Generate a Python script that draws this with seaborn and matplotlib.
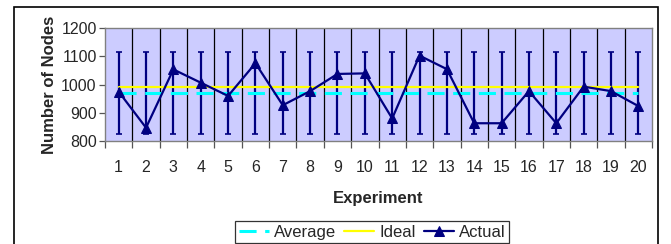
import numpy as np
import pandas as pd
import matplotlib
matplotlib.use('Agg')
import matplotlib.pyplot as plt
import seaborn as sns
from matplotlib.patches import Rectangle

experiments = list(range(1, 21))
actual = [975, 847, 1054, 1007, 960, 1076, 927, 977, 1038, 1040,
          880, 1103, 1055, 863, 863, 977, 863, 993, 977, 924]
average = [970] * 20
ideal = [993] * 20
average_err = [145] * 20

df = pd.DataFrame({'Experiment': experiments, 'Actual': actual,
                   'Average': average, 'Ideal': ideal})

sns.set_style('white')
plt.rcParams['font.family'] = ['Liberation Sans', 'DejaVu Sans']

fig = plt.figure(figsize=(6.71, 2.44), dpi=100)
ax = fig.add_axes([105 / 671, 1 - 141 / 244, 547 / 671, 112.7 / 244])
ax.set_facecolor('#CCCCFF')

# black gridlines between categories
for b in np.arange(1.5, 20.5, 1):
    ax.axvline(b, color='black', lw=0.9, zorder=1)

ax.errorbar(df['Experiment'], df['Average'], yerr=average_err, fmt='none',
            ecolor='#000080', elinewidth=1.6, capsize=2, capthick=1.2, zorder=2)

sns.lineplot(data=df, x='Experiment', y='Average', ax=ax, color='#00FFFF',
             lw=2.2, legend=False, zorder=3)
avg_line = ax.lines[-1]
avg_line.set_dashes([5.6, 2.8])
sns.lineplot(data=df, x='Experiment', y='Ideal', ax=ax, color='#FFFF00',
             lw=1.6, legend=False, zorder=3)
ideal_line = ax.lines[-1]
sns.lineplot(data=df, x='Experiment', y='Actual', ax=ax, color='#000080',
             lw=1.6, marker='^', markersize=7, markeredgecolor='#000080',
             legend=False, zorder=4)
actual_line = ax.lines[-1]

ax.set_xlim(0.5, 20.5)
ax.set_ylim(800, 1200)
ax.set_xticks(experiments)
ax.set_xticks(np.arange(0.5, 21, 1), minor=True)
ax.set_yticks([800, 900, 1000, 1100, 1200])
ax.tick_params(axis='x', which='major', length=0, labelsize=11.5, pad=14)
ax.tick_params(axis='x', which='minor', length=5, width=0.9, color='#555555')
ax.tick_params(axis='y', length=4, width=0.9, color='#555555', labelsize=11.5, pad=2)
ax.yaxis.set_ticks_position('left')
ax.xaxis.set_ticks_position('bottom')
for s in ax.spines.values():
    s.set_color('#808080')
    s.set_linewidth(1)

ax.set_xlabel('Experiment', fontsize=12, fontweight='bold', labelpad=11)
ax.set_ylabel('Number of Nodes', fontsize=12, fontweight='bold', labelpad=3)

leg = ax.legend([avg_line, ideal_line, actual_line], ['Average', 'Ideal', 'Actual'],
                loc='lower center', bbox_to_anchor=(372 / 671, 1 / 244),
                bbox_transform=fig.transFigure, ncol=3, frameon=True,
                fancybox=False, edgecolor='black', fontsize=12,
                handlelength=1.8, handletextpad=0.3, columnspacing=0.5,
                borderpad=0.2, borderaxespad=0.0)
leg.get_frame().set_linewidth(0.9)

fig.patches.append(Rectangle((14 / 671, -0.05), 644 / 671, 1.05 - 7 / 244,
                             transform=fig.transFigure, fill=False,
                             edgecolor='black', lw=1.2))

fig.savefig('out.png', dpi=100)
